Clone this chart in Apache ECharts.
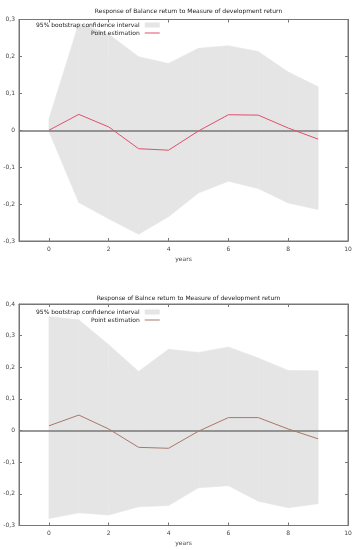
<!DOCTYPE html>
<html><head><meta charset="utf-8">
<script src="https://cdn.jsdelivr.net/npm/echarts@6/dist/echarts.min.js"></script>
<style>html,body{margin:0;padding:0;background:#fff}#c{width:356px;height:550px}</style>
</head><body><div id="c"></div>
<script>
const years = [0,1,2,3,4,5,6,7,8,9];
const xTicks = [0,2,4,6,8,10];
const title1 = 'Response of Balance return to Measure of development return';
const title2 = 'Response of Balnce return to Measure of development return';
const upper1 = [0.03,0.29,0.26,0.199,0.181,0.222,0.229,0.213,0.158,0.118];
const lower1 = [-0.003,-0.196,-0.24,-0.282,-0.234,-0.170,-0.138,-0.158,-0.197,-0.215];
const point1 = [0,0.043,0.009,-0.050,-0.054,-0.002,0.042,0.041,0.006,-0.024];
const upper2 = [0.360,0.350,0.271,0.187,0.257,0.247,0.264,0.229,0.190,0.189];
const lower2 = [-0.278,-0.260,-0.267,-0.241,-0.237,-0.181,-0.174,-0.223,-0.244,-0.231];
const point2 = [0.015,0.049,0.005,-0.053,-0.056,-0.002,0.041,0.041,0.005,-0.026];
const bandName = '95% bootstrap confidence interval';
const pointName = 'Point estimation';

const FONT = 'DejaVu Sans';
const AX = '#777';
const BAND = '#e5e5e5';
const RED = '#e0506a';
const BROWN = '#a87868';
const fmt = v => (Math.round(v*10)/10).toString().replace('.', ',');

function grids(top){ return {left:19, right:8, top:top, height:221.5, show:true, borderColor:AX, borderWidth:1, backgroundColor:'transparent'}; }
function xAxes(gi){
  return [
    {type:'value', gridIndex:gi, min:-1, max:10, position:'bottom',
     name:'years', nameLocation:'middle', nameGap:15,
     nameTextStyle:{fontSize:6, color:'#444', fontFamily:FONT},
     axisLine:{show:true, onZero:false, lineStyle:{color:AX, width:1}},
     axisTick:{show:true, inside:true, length:3, customValues:xTicks, lineStyle:{color:AX}},
     axisLabel:{customValues:xTicks, fontSize:6, color:'#444', fontFamily:FONT, margin:5},
     splitLine:{show:false}},
    {type:'value', gridIndex:gi, min:-1, max:10, position:'top',
     axisLine:{show:true, onZero:false, lineStyle:{color:AX, width:1}},
     axisTick:{show:true, inside:true, length:3, customValues:xTicks, lineStyle:{color:AX}},
     axisLabel:{show:false}, splitLine:{show:false}}
  ];
}
function yAxes(gi, mn, mx){
  return [
    {type:'value', gridIndex:gi, min:mn, max:mx, interval:0.1, position:'left',
     axisLine:{show:true, onZero:false, lineStyle:{color:AX, width:1}},
     axisTick:{show:true, inside:true, length:3, lineStyle:{color:AX}},
     axisLabel:{fontSize:6, color:'#444', fontFamily:FONT, margin:4, formatter:fmt},
     splitLine:{show:false}},
    {type:'value', gridIndex:gi, min:mn, max:mx, interval:0.1, position:'right',
     axisLine:{show:true, onZero:false, lineStyle:{color:AX, width:1}},
     axisTick:{show:true, inside:true, length:3, lineStyle:{color:AX}},
     axisLabel:{show:false}, splitLine:{show:false}}
  ];
}
function bandSeries(xi, yi, lower, upper){
  const segs = years.slice(0, -1).map((x, i) => [x, lower[i], upper[i], years[i+1], lower[i+1], upper[i+1]]);
  return {type:'custom', name:bandName, xAxisIndex:xi, yAxisIndex:yi, silent:true, z:1,
    itemStyle:{color:BAND},
    encode:{x:[0,3], y:[1,2,4,5]},
    data:segs,
    renderItem:(params, api) => {
      const a = api.coord([api.value(0), api.value(1)]);
      const b = api.coord([api.value(0), api.value(2)]);
      const c = api.coord([api.value(3), api.value(5)]);
      const d = api.coord([api.value(3), api.value(4)]);
      return {type:'polygon', shape:{points:[a,b,c,d]},
        style:{fill:BAND, stroke:BAND, lineWidth:0.6}};
    }};
}
function pointSeries(xi, yi, pts, color){
  return {type:'line', name:pointName, xAxisIndex:xi, yAxisIndex:yi,
    data: years.map((x,i)=>[x, pts[i]]), symbol:'none', silent:true,
    lineStyle:{color:color, width:1}, itemStyle:{color:color}, z:3,
    markLine:{silent:true, symbol:'none', label:{show:false},
      lineStyle:{color:'#777', width:1.5, type:'solid'}, data:[{yAxis:0}], z:2}};
}
function legend(top, color){
  return {orient:'vertical', align:'right', left:36, top:top, itemWidth:15, itemHeight:5, itemGap:2,
    symbolKeepAspect:true,
    textStyle:{fontSize:6, color:'#222', fontFamily:FONT},
    padding:0,
    data:[{name:bandName, icon:'rect', itemStyle:{color:BAND}},
          {name:pointName, icon:'path://M0,0H15V1H0Z', itemStyle:{color:color}}]};
}

const chart = echarts.init(document.getElementById('c'), null, {renderer:'canvas'});
chart.setOption({
  animation:false,
  title:[
    {text:title1, left:183.5, top:3, textAlign:'center', textStyle:{fontSize:6, fontWeight:'normal', color:'#222', fontFamily:FONT}},
    {text:title2, left:183.5, top:290, textAlign:'center', textStyle:{fontSize:6, fontWeight:'normal', color:'#222', fontFamily:FONT}}
  ],
  legend:[legend(22, RED), legend(309, BROWN)],
  grid:[grids(19.5), grids(304)],
  xAxis:[...xAxes(0), ...xAxes(1)],
  yAxis:[...yAxes(0,-0.3,0.3), ...yAxes(1,-0.3,0.4)],
  series:[
    bandSeries(0,0,lower1,upper1),
    pointSeries(0,0,point1,RED),
    bandSeries(2,2,lower2,upper2),
    pointSeries(2,2,point2,BROWN)
  ]
});
</script></body></html>
